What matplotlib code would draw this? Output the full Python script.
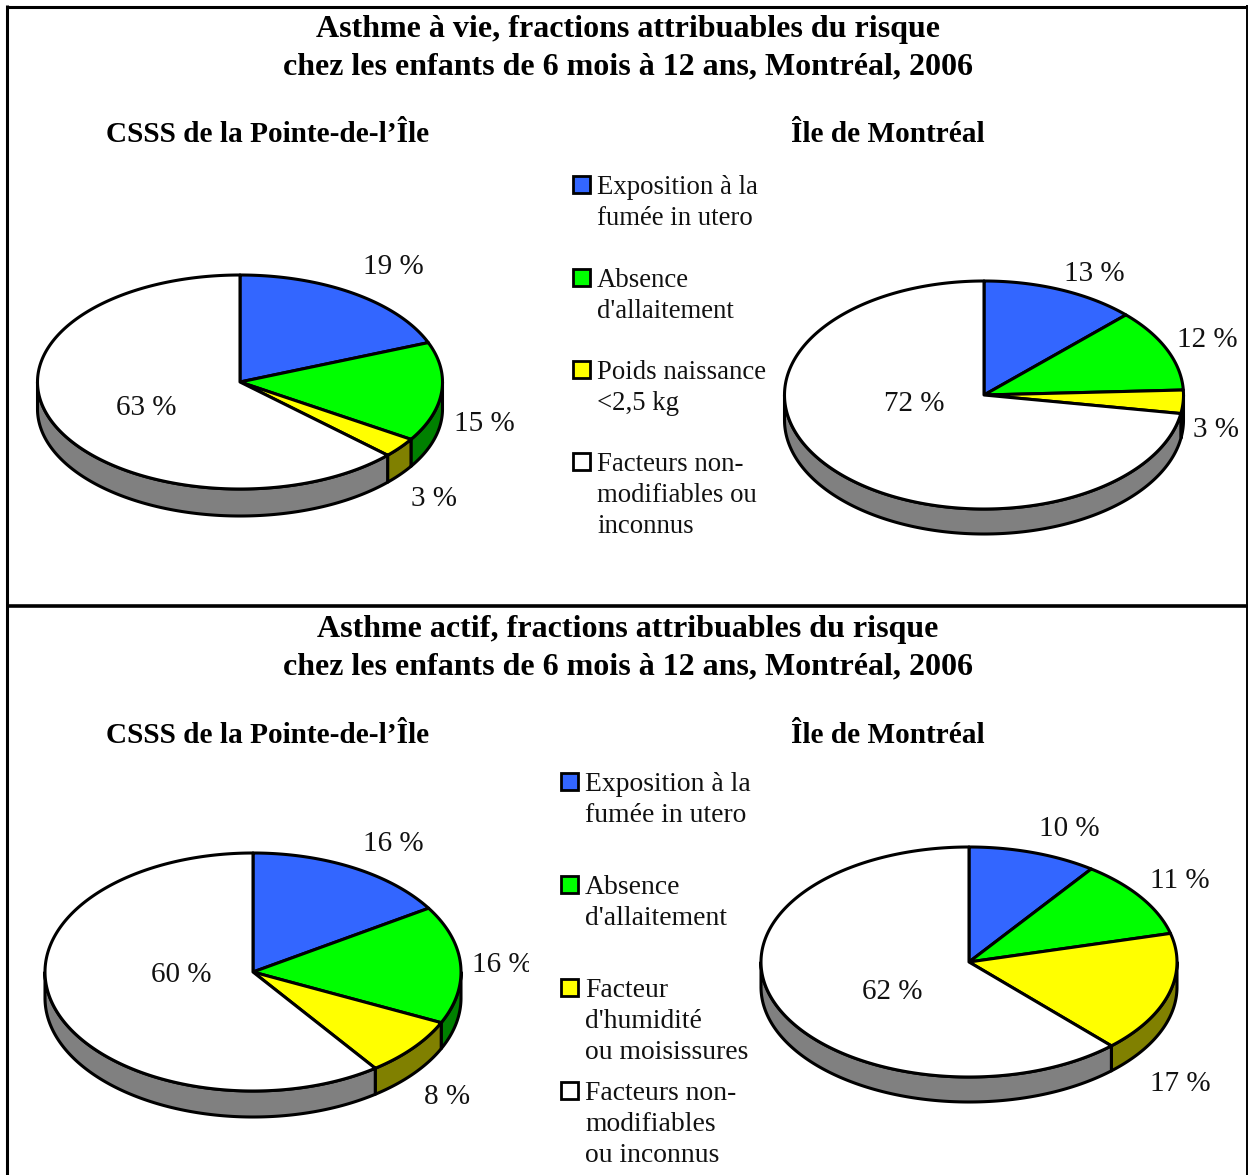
#!/usr/bin/env python3
# -*- coding: utf-8 -*-
import numpy as np
import matplotlib
matplotlib.use('Agg')
import matplotlib.pyplot as plt
from matplotlib.patches import Polygon, Rectangle

plt.rcParams['font.family'] = ['Liberation Serif', 'DejaVu Serif']

# values (percent), labels show them rounded
vie_csss = [19, 15, 3, 63]
vie_mtl = [12.6, 11.7, 3.3, 72.4]
actif_csss = [16, 16, 8, 60]
actif_mtl = [10, 11, 17, 62]

titre_vie = ["Asthme à vie, fractions attribuables du risque",
             "chez les enfants de 6 mois à 12 ans, Montréal, 2006"]
titre_actif = ["Asthme actif, fractions attribuables du risque",
               "chez les enfants de 6 mois à 12 ans, Montréal, 2006"]
sous_titres = ["CSSS de la Pointe-de-l’Île", "Île de Montréal"]

legende_vie = [["Exposition à la", "fumée in utero"],
               ["Absence", "d'allaitement"],
               ["Poids naissance", "<2,5 kg"],
               ["Facteurs non-", "modifiables ou", "inconnus"]]
legende_actif = [["Exposition à la", "fumée in utero"],
                 ["Absence", "d'allaitement"],
                 ["Facteur", "d'humidité", "ou moisissures"],
                 ["Facteurs non-", "modifiables", "ou inconnus"]]

top_colors = ['#3366FF', '#00FF00', '#FFFF00', '#FFFFFF']
side_colors = ['#1A3380', '#008000', '#808000', '#808080']

fig = plt.figure(figsize=(12.48, 11.75), dpi=100)
ax = fig.add_axes([0, 0, 1, 1])
ax.set_xlim(0, 1248)
ax.set_ylim(1175, 0)
ax.axis('off')


def pie3d(values, cx, cy, rx, ry, depth):
    # clockwise from 12 o'clock, the ellipse is a squashed circle
    edges = np.radians(np.cumsum([0] + values) / sum(values) * 360)
    # walls first, only the front half of the disc has one
    for i in range(len(values)):
        a0 = max(edges[i], np.pi / 2)
        a1 = min(edges[i + 1], 3 * np.pi / 2)
        if a1 <= a0:
            continue
        t = np.linspace(a0, a1, 200)
        x = cx + rx * np.sin(t)
        y = cy - ry * np.cos(t)
        pts = np.column_stack([np.r_[x, x[::-1]], np.r_[y, y[::-1] + depth]])
        ax.add_patch(Polygon(pts, closed=True, fc=side_colors[i], ec='black',
                             lw=2.2, joinstyle='round', zorder=2))
    for i in range(len(values)):
        t = np.linspace(edges[i], edges[i + 1], 300)
        x = np.r_[cx, cx + rx * np.sin(t)]
        y = np.r_[cy, cy - ry * np.cos(t)]
        ax.add_patch(Polygon(np.column_stack([x, y]), closed=True, fc=top_colors[i],
                             ec='black', lw=2.2, joinstyle='round', zorder=3))


def pct_labels(values, positions, clip_right=None):
    for v, (x, y) in zip(values, positions):
        t = ax.text(x, y + 10, "%d %%" % round(v), fontsize=pct_size, ha='center', va='baseline',
                    color='#111111', zorder=5)
        if clip_right is not None and x + 30 > clip_right:
            t.set_clip_path(Rectangle((0, 0), clip_right, 1175, transform=ax.transData))
            t.set_clip_on(True)


def legend(entries, x_box, x_text, line_tops, size):
    for i, lines in enumerate(entries):
        y0 = line_tops[i]
        ax.add_patch(Rectangle((x_box, y0 - 8.5), 17, 17, fc=top_colors[i], ec='black', lw=2, zorder=3))
        for j, line in enumerate(lines):
            ax.text(x_text, y0 + 9.5 + j * 31, line, fontsize=size, ha='left', va='baseline', color='#111111')


title_size = 23
head_size = 21.1
pct_size = 21

for ly, line in zip([37, 74], titre_vie):
    ax.text(628, ly, line, fontsize=title_size, fontweight='bold', ha='center', va='baseline')
for ly, line in zip([637, 674], titre_actif):
    ax.text(628, ly, line, fontsize=title_size, fontweight='bold', ha='center', va='baseline')
for base in [142, 743]:
    ax.text(268, base, sous_titres[0], fontsize=head_size, fontweight='bold', ha='center', va='baseline')
    ax.text(888, base, sous_titres[1], fontsize=head_size, fontweight='bold', ha='center', va='baseline')

pie3d(vie_csss, 240, 382, 202.5, 107, 27)
pie3d(vie_mtl, 984, 395, 199.5, 114, 25)
pie3d(actif_csss, 253, 972, 208, 119, 26)
pie3d(actif_mtl, 969, 962, 208, 115, 25)

pct_labels(vie_csss, [(393, 264), (484, 421), (434, 496), (146, 405)])
pct_labels(vie_mtl, [(1094, 271), (1207, 337), (1216, 427), (914, 401)])
pct_labels(actif_csss, [(393, 841), (502, 962), (447, 1094), (181, 972)], clip_right=529)
pct_labels(actif_mtl, [(1069, 826), (1180, 878), (1180, 1081), (892, 989)])

legend(legende_vie, 573, 597, [184.5, 277.5, 369.5, 461.5], 19.3)
legend(legende_actif, 561, 585, [781.5, 884.5, 987.5, 1090.5], 19.9)

# frame, open at the bottom
ax.plot([7.2, 7.2], [5, 1175], color='black', lw=2.2, zorder=6, solid_capstyle='butt')
ax.plot([1247, 1247], [5, 1175], color='black', lw=1.4, zorder=6, solid_capstyle='butt')
ax.plot([6, 1248], [6.5, 6.5], color='black', lw=2.2, zorder=6, solid_capstyle='butt')
ax.plot([6, 1248], [606, 606], color='black', lw=2.6, zorder=6, solid_capstyle='butt')

fig.savefig('out.png', dpi=100)
